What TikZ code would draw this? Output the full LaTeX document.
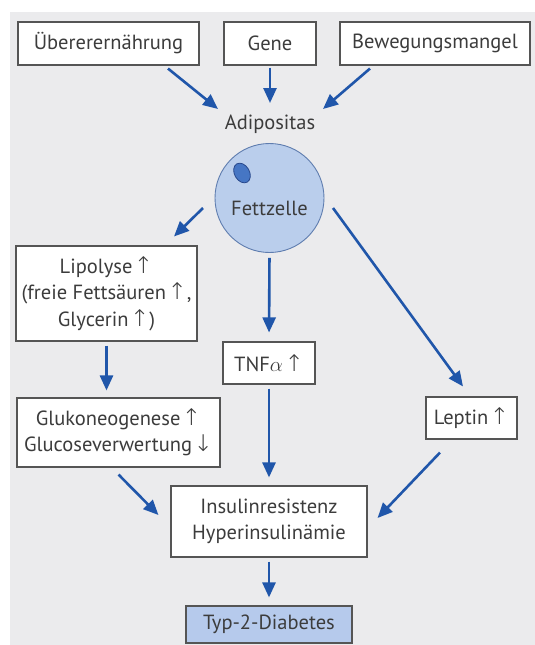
\documentclass[tikz,border=0pt]{standalone}
\usepackage{fontspec}
\setmainfont{PT Sans}
\newfontfamily\pfeilfont{DejaVu Sans ExtraLight}
\newcommand{\hoch}{\kern1.5pt{\pfeilfont\fontsize{23}{20}\selectfont ↑}}
\newcommand{\runter}{\kern1.5pt{\pfeilfont\fontsize{23}{20}\selectfont ↓}}
\usetikzlibrary{arrows.meta}
\definecolor{pfeilblau}{RGB}{32,86,170}
\definecolor{rahmengrau}{RGB}{85,85,85}
\definecolor{textgrau}{RGB}{60,60,60}
\definecolor{grund}{RGB}{235,235,237}
\definecolor{zellblau}{RGB}{186,206,236}
\definecolor{zellrand}{RGB}{95,125,175}
\definecolor{kernblau}{RGB}{70,118,196}
\definecolor{kernrand}{RGB}{40,72,140}
\definecolor{diabblau}{RGB}{182,202,236}
\begin{document}
\begin{tikzpicture}%
	[x=1pt, y=-1pt,
	box/.style={draw=rahmengrau, line width=1.1pt, fill=white, text=textgrau, inner sep=0pt, align=center, font=\fontsize{20.5}{26.5}\selectfont},
	plain/.style={text=textgrau, inner sep=0pt, font=\fontsize{20.5}{26.5}\selectfont},
	zelle/.style={circle, draw=zellrand, line width=0.9pt, fill=zellblau, inner sep=0pt, minimum size=109pt, text=textgrau, font=\fontsize{20.5}{26.5}\selectfont},
	kern/.style={draw=kernrand, line width=0.8pt, fill=kernblau},
	pfeil/.style={-{Triangle[length=15pt,width=13pt]}, draw=pfeilblau, line width=2.6pt}]
%
%% Hintergrund
%%
\useasboundingbox (0,0) rectangle (535,645);
\fill[grund] (10,12) rectangle (535,645);
%%
%% Ursachen
%%
\node[box, minimum width=181pt, minimum height=43pt] (ueber) at (108.5,43.5) {Übererernährung};
\node[box, minimum width=92pt, minimum height=43pt] (gene) at (270,43.5) {Gene};
\node[box, minimum width=190pt, minimum height=43pt] (beweg) at (435,43.5) {Bewegungsmangel};
\node[plain] (adip) at (270,124) {Adipositas};
%%
%% Fettzelle
%%
\node[zelle] (zelle) at (269.5,198) {\raisebox{-17pt}[0pt][0pt]{Fettzelle}};
\draw[kern, rotate around={30:(242,173)}] (242,173) ellipse [x radius=7.5, y radius=10.5];
%%
%% Folgen
%%
\node[box, minimum width=181pt, minimum height=95pt] (lipo) at (106.5,293.5) {Lipolyse\hoch\\(freie Fettsäuren\hoch,\\Glycerin\hoch)};
\node[box, minimum width=92pt, minimum height=42pt] (tnf) at (269,363) {TNF$\alpha$\hoch};
\node[box, minimum width=91pt, minimum height=42pt] (leptin) at (471.5,418) {Leptin\hoch};
\node[box, minimum width=203pt, minimum height=69pt] (gluko) at (118.5,432.5) {Glukoneogenese\hoch\\Glucoseverwertung\runter};
\node[box, minimum width=196pt, minimum height=71pt] (insulin) at (269,521.5) {Insulinresistenz\\Hyperinsulinämie};
\node[box, fill=diabblau, minimum width=166pt, minimum height=37pt] (typ) at (269,624.5) {Typ-2-Diabetes};
%%
%% Pfeile
%%
\draw[pfeil] ([xshift=59.5pt,yshift=-3pt]ueber.south) -- ([shift={(-52pt,15pt)}]adip.center);
\draw[pfeil, shorten <=2pt] (gene.south) -- ([yshift=21pt]adip.center);
\draw[pfeil] ([xshift=-65pt,yshift=-3pt]beweg.south) -- ([shift={(53pt,15pt)}]adip.center);
\draw[pfeil] ([shift={(-66.5pt,-10pt)}]zelle.center) -- ([shift={(67.5pt,9pt)}]lipo.north);
\draw[pfeil, shorten <=5pt, shorten >=9pt] (zelle.south) -- (tnf.north);
\draw[pfeil] ([shift={(63.5pt,-10pt)}]zelle.center) -- ([shift={(-8.5pt,10pt)}]leptin.north);
\draw[pfeil, shorten <=4pt, shorten >=7pt] (lipo.south) -- (lipo.south |- gluko.north);
\draw[pfeil, shorten <=4pt, shorten >=8pt] (tnf.south) -- (insulin.north);
\draw[pfeil] ([yshift=-7pt]gluko.south) -- ([shift={(-12pt,6.5pt)}]insulin.west);
\draw[pfeil] ([shift={(-31.5pt,-13pt)}]leptin.south) -- ([shift={(10pt,3.5pt)}]insulin.east);
\draw[pfeil, shorten <=4pt, shorten >=8pt] (insulin.south) -- (typ.north);
%%
\end{tikzpicture}
\end{document}
